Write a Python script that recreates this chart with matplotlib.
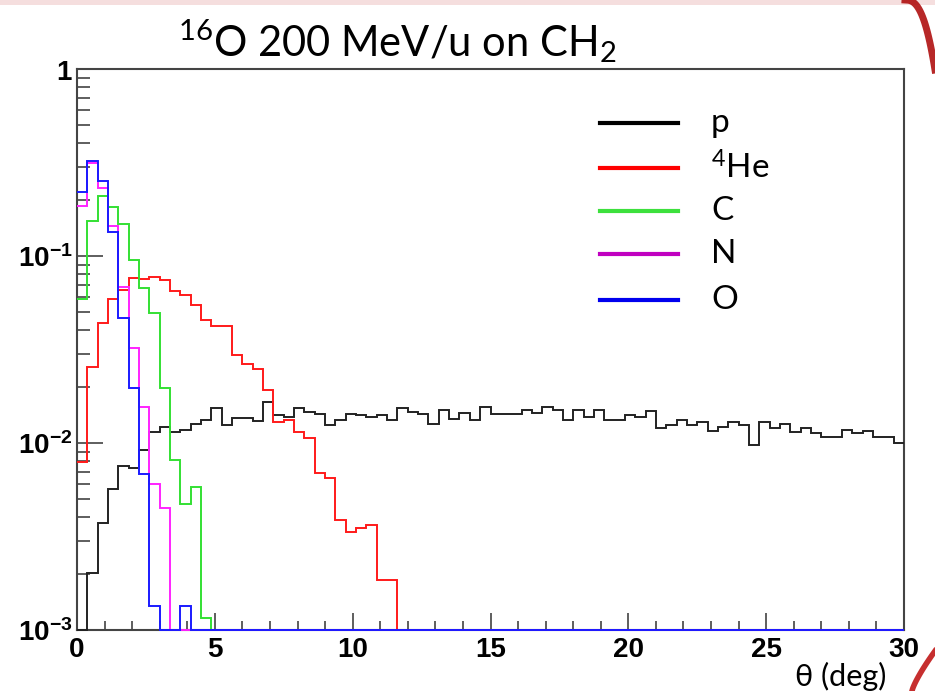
import numpy as np
import matplotlib
matplotlib.use("Agg")
import matplotlib.pyplot as plt
from matplotlib.ticker import MultipleLocator, LogLocator, FixedLocator, FixedFormatter, NullFormatter
from matplotlib.lines import Line2D
from matplotlib.patches import Rectangle

plt.rcParams['mathtext.fontset'] = 'custom'
plt.rcParams['mathtext.rm'] = 'Lato'
plt.rcParams['mathtext.it'] = 'Lato:italic'
plt.rcParams['mathtext.bf'] = 'Liberation Sans:bold'

# ---------------- data (80 bins of 0.375 deg, 0-30 deg) ----------------
theta_edges = np.linspace(0.0, 30.0, 81)

p_vals = [0.0, 0.00201, 0.00372, 0.00565, 0.00753, 0.00738, 0.00918, 0.0114,
          0.0122, 0.0114, 0.0117, 0.0127, 0.0133, 0.0153, 0.0125, 0.0136,
          0.0136, 0.0131, 0.0165, 0.0141, 0.0138, 0.0153, 0.0146, 0.0143,
          0.0125, 0.0133, 0.0143, 0.0141, 0.0138, 0.0141, 0.0133, 0.0153,
          0.0146, 0.0143, 0.0126, 0.0150, 0.0135, 0.0145, 0.0133, 0.0156,
          0.0143, 0.0143, 0.0143, 0.0150, 0.0145, 0.0156, 0.0151, 0.0132,
          0.0150, 0.0138, 0.0150, 0.0132, 0.0132, 0.0141, 0.0138, 0.0148,
          0.0121, 0.0125, 0.0133, 0.0125, 0.0129, 0.0116, 0.0122, 0.0129,
          0.0125, 0.00976, 0.0129, 0.0121, 0.0127, 0.0114, 0.0121, 0.0113,
          0.0108, 0.0108, 0.0118, 0.0113, 0.0116, 0.0108, 0.0108, 0.00996]

he4_vals = [0.00794, 0.0256, 0.0437, 0.0587, 0.0658, 0.0760, 0.0753, 0.0775,
            0.0747, 0.0652, 0.0619, 0.0547, 0.0452, 0.0424, 0.0424, 0.0296,
            0.0265, 0.0248, 0.0191, 0.0130, 0.0133, 0.0114, 0.0107, 0.00694,
            0.00648, 0.00387, 0.00336, 0.00350, 0.00364, 0.00184, 0.00184] + [0.0] * 49

c_vals = [0.0587, 0.154, 0.209, 0.182, 0.148, 0.0952, 0.0677, 0.0494,
          0.0198, 0.00811, 0.00470, 0.00584, 0.00116] + [0.0] * 67

n_vals = [0.185, 0.313, 0.232, 0.145, 0.0685, 0.0321, 0.0156, 0.00603,
          0.00451] + [0.0] * 71

o_vals = [0.221, 0.322, 0.253, 0.135, 0.0468, 0.0198, 0.00680, 0.00135,
          0.0, 0.0, 0.00135] + [0.0] * 69

series_labels = ['p', '$^{4}$He', 'C', 'N', 'O']
series_vals = [p_vals, he4_vals, c_vals, n_vals, o_vals]
line_colors = ['#222222', '#ff1a1a', '#33e033', '#ff22ff', '#1a1aff']
legend_colors = ['#000000', '#ff0000', '#3de03d', '#c000c0', '#0000ee']

y_ticks = [1e-3, 1e-2, 1e-1, 1.0]
y_tick_labels = [r'$\mathbf{10^{-3}}$', r'$\mathbf{10^{-2}}$', r'$\mathbf{10^{-1}}$', r'$\mathbf{1}$']
x_ticks = [0, 5, 10, 15, 20, 25, 30]

# ---------------- figure ----------------
W, H = 935, 691
fig = plt.figure(figsize=(W / 100, H / 100), dpi=100)
fig.patch.set_facecolor('white')

# slide decoration
fig.add_artist(Rectangle((0, 1 - 5 / H), 1, 5 / H, transform=fig.transFigure,
                         color='#f5dede', lw=0, zorder=0))
t = np.linspace(0, 1, 40)
fig.add_artist(Line2D((905 + 30 * t ** 0.6) / W, 1 - (70 * t ** 1.6) / H,
                      color='#b01010', lw=5, transform=fig.transFigure, alpha=0.9))
fig.add_artist(Line2D((912 + 23 * t) / W, (40 * t ** 0.8) / H,
                      color='#c01818', lw=4, transform=fig.transFigure, alpha=0.9))

ax = fig.add_axes([77 / W, 61 / H, 827 / W, 561 / H])
ymin = 1e-3
for vals, col in zip(series_vals, line_colors):
    v = np.asarray(vals, dtype=float)
    v = np.where(v > 0, v, ymin)
    ax.stairs(v, theta_edges, baseline=None, color=col, lw=1.4, clip_on=False, zorder=3)

ax.set_yscale('log')
ax.set_xlim(0, 30)
ax.set_ylim(1e-3, 1)

ax.yaxis.set_major_locator(FixedLocator(y_ticks))
ax.yaxis.set_major_formatter(FixedFormatter(y_tick_labels))
ax.yaxis.set_minor_locator(LogLocator(base=10, subs=np.arange(2, 10)))
ax.yaxis.set_minor_formatter(NullFormatter())
ax.xaxis.set_major_locator(FixedLocator(x_ticks))
ax.xaxis.set_minor_locator(MultipleLocator(1))

for s in ax.spines.values():
    s.set_color('#444444')
    s.set_linewidth(1.5)
    s.set_zorder(2)

ax.tick_params(axis='y', which='major', direction='in', length=18.5, width=1.1,
               color='#333333', labelsize=20, pad=3)
ax.tick_params(axis='y', which='minor', direction='in', length=9.5, width=1.1, color='#333333')
ax.tick_params(axis='x', which='major', direction='in', length=12, width=1.1,
               color='#333333', labelsize=20, pad=5)
ax.tick_params(axis='x', which='minor', direction='in', length=6.5, width=1.1, color='#333333')
for lab in ax.get_xticklabels():
    lab.set_fontfamily('Liberation Sans')
    lab.set_fontweight('bold')

# title
fig.text(397 / W, 1 - 41 / H, r'$^{16}$O 200 MeV/u on CH$_{2}$', ha='center', va='center',
         fontsize=30, family='Lato')

# axis label
fig.text(886 / W, 1 - 676 / H, 'θ (deg)', ha='right', va='center', fontsize=22, family='Lato')

# legend
leg_y = [123, 168, 211, 254, 300]
for yy, lab, col in zip(leg_y, series_labels, legend_colors):
    fig.add_artist(Line2D([600 / W, 678 / W], [1 - yy / H, 1 - yy / H], color=col, lw=3,
                          transform=fig.transFigure))
    fig.text(711 / W, 1 - yy / H, lab, ha='left', va='center', fontsize=24, family='Lato')

fig.savefig('out.png', dpi=100)
